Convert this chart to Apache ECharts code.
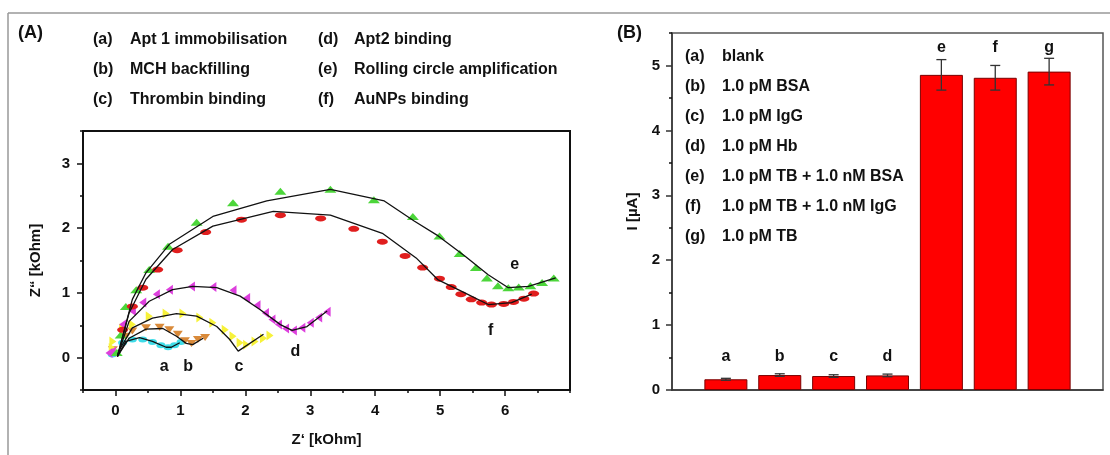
<!DOCTYPE html>
<html>
<head>
<meta charset="utf-8">
<script src="https://cdn.jsdelivr.net/npm/echarts@6/dist/echarts.min.js"></script>
<style>
  html, body { margin: 0; padding: 0; background: #fff; }
  #chart { width: 1110px; height: 455px; }
</style>
</head>
<body>
<div id="chart"></div>
<script>
// Panel A: Nyquist data [Z', Z''] in kOhm
var aData = [[-0.05, 0.05], [0.11, 0.23], [0.26, 0.28], [0.42, 0.28], [0.57, 0.24], [0.70, 0.19], [0.81, 0.16], [0.91, 0.19], [1.01, 0.24]];
var aFit = [[0.03, 0.02], [0.16, 0.25], [0.37, 0.31], [0.57, 0.25], [0.78, 0.16], [0.86, 0.16], [0.99, 0.23]];
var bData = [[-0.04, 0.12], [0.16, 0.33], [0.26, 0.41], [0.47, 0.46], [0.68, 0.47], [0.83, 0.43], [0.96, 0.36], [1.07, 0.26], [1.17, 0.22], [1.27, 0.28], [1.38, 0.31]];
var bFit = [[0.03, 0.02], [0.21, 0.30], [0.47, 0.44], [0.73, 0.45], [0.94, 0.33], [1.09, 0.22], [1.19, 0.20], [1.35, 0.30]];
var cData = [[-0.05, 0.15], [-0.04, 0.25], [0.11, 0.45], [0.26, 0.51], [0.52, 0.64], [0.78, 0.68], [1.04, 0.68], [1.30, 0.62], [1.50, 0.54], [1.69, 0.43], [1.81, 0.33], [1.92, 0.23], [2.02, 0.20], [2.15, 0.25], [2.28, 0.30], [2.38, 0.34]];
var cFit = [[0.03, 0.02], [0.06, 0.12], [0.26, 0.46], [0.57, 0.61], [0.94, 0.68], [1.25, 0.64], [1.56, 0.48], [1.76, 0.28], [1.89, 0.10], [2.28, 0.36]];
var dData = [[-0.10, 0.07], [-0.05, 0.09], [0.11, 0.51], [0.26, 0.72], [0.42, 0.85], [0.63, 0.98], [0.83, 1.05], [1.17, 1.10], [1.50, 1.09], [1.81, 1.04], [2.02, 0.92], [2.18, 0.81], [2.31, 0.69], [2.41, 0.59], [2.51, 0.51], [2.62, 0.45], [2.74, 0.42], [2.87, 0.46], [3.00, 0.54], [3.13, 0.62], [3.26, 0.71]];
var dFit = [[0.03, 0.02], [0.21, 0.56], [0.52, 0.87], [0.88, 1.05], [1.19, 1.10], [1.56, 1.08], [1.92, 0.95], [2.23, 0.74], [2.54, 0.51], [2.72, 0.42], [2.95, 0.48], [3.26, 0.72]];
var eData = [[0.02, 0.08], [0.08, 0.35], [0.16, 0.79], [0.32, 1.05], [0.52, 1.36], [0.81, 1.72], [1.25, 2.09], [1.81, 2.39], [2.54, 2.57], [3.31, 2.60], [3.98, 2.44], [4.58, 2.18], [4.99, 1.88], [5.30, 1.61], [5.55, 1.39], [5.72, 1.23], [5.89, 1.11], [6.05, 1.08], [6.21, 1.09], [6.39, 1.11], [6.57, 1.16], [6.75, 1.23]];
var eFit = [[0.03, 0.02], [0.26, 0.90], [0.47, 1.31], [0.83, 1.75], [1.50, 2.18], [2.33, 2.42], [3.31, 2.60], [4.14, 2.42], [4.60, 2.11], [4.97, 1.88], [5.38, 1.57], [5.74, 1.28], [6.05, 1.08], [6.36, 1.10], [6.78, 1.23]];
var fData = [[0.11, 0.43], [0.26, 0.79], [0.42, 1.08], [0.65, 1.36], [0.95, 1.66], [1.39, 1.94], [1.94, 2.13], [2.54, 2.20], [3.16, 2.15], [3.67, 1.99], [4.11, 1.79], [4.46, 1.57], [4.73, 1.39], [4.99, 1.22], [5.17, 1.09], [5.32, 0.98], [5.48, 0.90], [5.64, 0.85], [5.79, 0.82], [5.98, 0.83], [6.13, 0.86], [6.29, 0.91], [6.44, 0.99]];
var fFit = [[0.03, 0.02], [0.21, 0.69], [0.47, 1.21], [0.88, 1.67], [1.50, 2.03], [2.43, 2.26], [3.31, 2.20], [4.11, 1.92], [4.63, 1.54], [4.97, 1.20], [5.38, 1.00], [5.74, 0.82], [6.10, 0.85], [6.41, 0.98]];
var curveLabels = [['a', 0.75, -0.14], ['b', 1.12, -0.14], ['c', 1.90, -0.14], ['d', 2.77, 0.09], ['e', 6.15, 1.44], ['f', 5.78, 0.42]];
var legendA = [['(a)', 'Apt 1 immobilisation'], ['(b)', 'MCH backfilling'], ['(c)', 'Thrombin binding'],
               ['(d)', 'Apt2 binding'], ['(e)', 'Rolling circle amplification'], ['(f)', 'AuNPs binding']];
var ticksAx = [0, 1, 2, 3, 4, 5, 6];
var minorAx = [-0.5, 0.5, 1.5, 2.5, 3.5, 4.5, 5.5, 6.5, 7];
var ticksAy = [0, 1, 2, 3];
var minorAy = [-0.5, 0.5, 1.5, 2.5, 3.5];

// Panel B: current per sample
var barNames = ['a', 'b', 'c', 'd', 'e', 'f', 'g'];
var barValues = [0.165, 0.23, 0.215, 0.225, 4.855, 4.81, 4.905];
var barErrors = [0.015, 0.02, 0.02, 0.02, 0.235, 0.19, 0.205];
var barLetterY = [0.52, 0.52, 0.52, 0.52, 5.28, 5.28, 5.28];
var legendB = [['(a)', 'blank'], ['(b)', '1.0 pM BSA'], ['(c)', '1.0 pM IgG'], ['(d)', '1.0 pM Hb'],
               ['(e)', '1.0 pM TB + 1.0 nM BSA'], ['(f)', '1.0 pM TB + 1.0 nM IgG'], ['(g)', '1.0 pM TB']];
var ticksBy = [0, 1, 2, 3, 4, 5];
var minorBy = [0.5, 1.5, 2.5, 3.5, 4.5, 5.5];

var FONT = '"Liberation Sans", Arial, sans-serif';
var chart = echarts.init(document.getElementById('chart'));

function txt(x, y, s, size) {
    return { type: 'text', x: x, y: y, style: { text: s, font: 'bold ' + size + 'px ' + FONT, fill: '#111', textVerticalAlign: 'middle' } };
}

var graphics = [
    { type: 'line', shape: { x1: 8, y1: 13, x2: 1110, y2: 13 }, style: { stroke: '#999', lineWidth: 1.5 } },
    { type: 'line', shape: { x1: 8, y1: 13, x2: 8, y2: 455 }, style: { stroke: '#999', lineWidth: 1.5 } },
    txt(18, 33, '(A)', 18),
    txt(617, 33, '(B)', 18)
];
legendA.forEach(function (r, i) {
    var col = Math.floor(i / 3), row = i % 3;
    graphics.push(txt(93 + col * 225, 40 + row * 30, r[0], 16));
    graphics.push(txt(130 + col * 224, 40 + row * 30, r[1], 16));
});
legendB.forEach(function (r, i) {
    graphics.push(txt(685, 57 + i * 30, r[0], 16));
    graphics.push(txt(722, 57 + i * 30, r[1], 16));
});

var labelStyle = { fontFamily: FONT, fontWeight: 'bold', fontSize: 15, color: '#111' };
var markLabel = { show: true, position: 'inside', formatter: '{b}', fontFamily: FONT, fontWeight: 'bold', fontSize: 16, color: '#111', textBorderWidth: 0 };

function minorAxis(gridIndex, min, max, values, isX) {
    return {
        gridIndex: gridIndex, type: 'value', min: min, max: max,
        position: isX ? 'bottom' : 'left',
        axisLine: { show: false, onZero: false }, splitLine: { show: false }, axisLabel: { show: false },
        axisTick: { show: true, length: 3, customValues: values, lineStyle: { color: '#111', width: 1.5 } }
    };
}

function scatterA(name, data, color, symbol, size, rotate) {
    return {
        name: name, type: 'scatter', xAxisIndex: 0, yAxisIndex: 0, data: data,
        symbol: symbol, symbolSize: size, symbolRotate: rotate || 0,
        itemStyle: { color: color, opacity: 1 }, z: 2, silent: true
    };
}
function fitA(data) {
    return {
        type: 'line', xAxisIndex: 0, yAxisIndex: 0, data: data, showSymbol: false,
        lineStyle: { color: '#111', width: 1.3 }, z: 3, silent: true
    };
}
function letters(xIdx, yIdx, data) {
    return {
        type: 'scatter', xAxisIndex: xIdx, yAxisIndex: yIdx, symbolSize: 1, silent: true, z: 6,
        itemStyle: { color: 'rgba(0,0,0,0)', opacity: 1 },
        data: data, label: markLabel
    };
}

var option = {
    animation: false,
    backgroundColor: '#fff',
    graphic: graphics,
    grid: [
        { left: 83, top: 131, width: 487, height: 259, show: true, borderColor: '#111', borderWidth: 2, backgroundColor: 'transparent' },
        { left: 672, top: 33, width: 431, height: 357, show: true, borderColor: '#555', borderWidth: 1.5, backgroundColor: 'transparent' }
    ],
    xAxis: [
        {
            gridIndex: 0, type: 'value', min: -0.5, max: 7,
            name: 'Z‘ [kOhm]', nameLocation: 'middle', nameGap: 42,
            nameTextStyle: labelStyle,
            axisLine: { onZero: false, lineStyle: { color: '#111', width: 2 } },
            axisTick: { length: 6, customValues: ticksAx, lineStyle: { color: '#111', width: 1.5 } },
            axisLabel: Object.assign({ customValues: ticksAx, margin: 13 }, labelStyle),
            splitLine: { show: false }
        },
        minorAxis(0, -0.5, 7, minorAx, true),
        {
            gridIndex: 1, type: 'value', min: 0, max: 8,
            axisLine: { onZero: false, lineStyle: { color: '#333', width: 1.5 } },
            axisTick: { show: false }, axisLabel: { show: false }, splitLine: { show: false }
        }
    ],
    yAxis: [
        {
            gridIndex: 0, type: 'value', min: -0.5, max: 3.5,
            name: 'Z“ [kOhm]', nameLocation: 'middle', nameGap: 40,
            nameTextStyle: labelStyle,
            axisLine: { onZero: false, lineStyle: { color: '#111', width: 2 } },
            axisTick: { length: 6, customValues: ticksAy, lineStyle: { color: '#111', width: 1.5 } },
            axisLabel: Object.assign({ customValues: ticksAy, margin: 13 }, labelStyle),
            splitLine: { show: false }
        },
        minorAxis(0, -0.5, 3.5, minorAy, false),
        {
            gridIndex: 1, type: 'value', min: 0, max: 5.5,
            name: 'I [µA]', nameLocation: 'middle', nameGap: 32,
            nameTextStyle: labelStyle,
            axisLine: { onZero: false, lineStyle: { color: '#333', width: 1.5 } },
            axisTick: { length: 6, customValues: ticksBy, lineStyle: { color: '#333', width: 1.5 } },
            axisLabel: Object.assign({ customValues: ticksBy, margin: 12 }, labelStyle),
            splitLine: { show: false }
        },
        minorAxis(1, 0, 5.5, minorBy, false)
    ],
    series: [
        scatterA('a', aData, '#3fdce8', 'circle', [9, 6]),
        scatterA('b', bData, '#d98a3a', 'triangle', [10, 7], 180),
        scatterA('c', cData, '#f7f23a', 'triangle', [10, 7], -90),
        scatterA('d', dData, '#dd3fdd', 'triangle', [10, 7], 90),
        scatterA('e', eData, '#4cd63a', 'triangle', [12, 7]),
        scatterA('f', fData, '#e01e1e', 'circle', [11, 6]),
        fitA(aFit), fitA(bFit), fitA(cFit), fitA(dFit), fitA(eFit), fitA(fFit),
        letters(0, 0, curveLabels.map(function (c) { return { name: c[0], value: [c[1], c[2]] }; })),
        {
            type: 'bar', xAxisIndex: 2, yAxisIndex: 2, barWidth: 43, silent: true,
            data: barValues.map(function (v, i) { return [i + 1, v]; }),
            itemStyle: { color: '#ff0000', borderColor: '#7a0000', borderWidth: 1 }
        },
        {
            type: 'custom', xAxisIndex: 2, yAxisIndex: 2, silent: true, z: 5,
            data: barValues.map(function (v, i) { return [i + 1, v, barErrors[i]]; }),
            renderItem: function (params, api) {
                var x = api.value(0), y = api.value(1), e = api.value(2);
                var top = api.coord([x, y + e]);
                var bot = api.coord([x, y - e]);
                var st = { stroke: '#333', lineWidth: 1.3 };
                return {
                    type: 'group', children: [
                        { type: 'line', shape: { x1: top[0], y1: top[1], x2: bot[0], y2: bot[1] }, style: st },
                        { type: 'line', shape: { x1: top[0] - 5, y1: top[1], x2: top[0] + 5, y2: top[1] }, style: st },
                        { type: 'line', shape: { x1: bot[0] - 5, y1: bot[1], x2: bot[0] + 5, y2: bot[1] }, style: st }
                    ]
                };
            }
        },
        letters(2, 2, barNames.map(function (n, i) { return { name: n, value: [i + 1, barLetterY[i]] }; }))
    ]
};

chart.setOption(option);
</script>
</body>
</html>
